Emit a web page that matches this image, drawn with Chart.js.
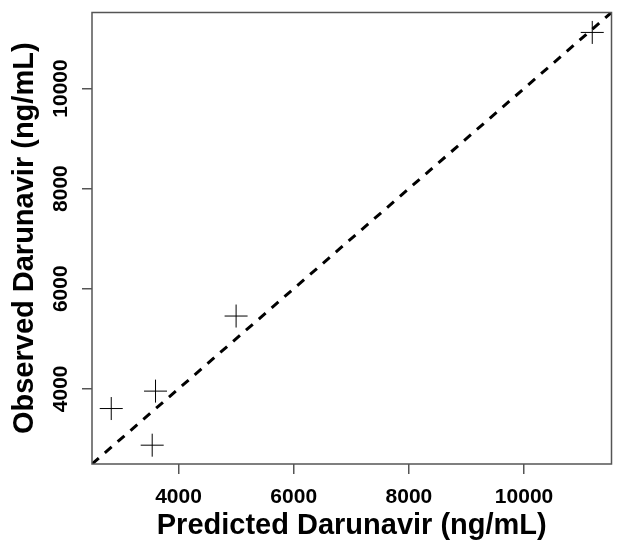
<!DOCTYPE html>
<html>
<head>
<meta charset="utf-8">
<script src="https://cdn.jsdelivr.net/npm/chart.js@4/dist/chart.umd.min.js"></script>
<style>
  html, body { margin: 0; padding: 0; background: #ffffff; }
  #wrap { width: 624px; height: 550px; }
</style>
</head>
<body>
<div id="wrap"><canvas id="c" width="624" height="550"></canvas></div>
<script>
// ---- data ----
const predicted = [2832, 3601, 3543, 5000, 11184];
const observed  = [3606, 3954, 2874, 5454, 11120];
const tickValues = [4000, 6000, 8000, 10000];
const xTitle = 'Predicted Darunavir (ng/mL)';
const yTitle = 'Observed Darunavir (ng/mL)';

// common axis limits (R style: range of all values, extended by 4%)
const allVals = predicted.concat(observed);
const lo = Math.min(...allVals), hi = Math.max(...allVals);
const axisMin = lo - 0.04 * (hi - lo);
const axisMax = hi + 0.04 * (hi - lo);

const points = predicted.map((p, i) => ({ x: p, y: observed[i] }));
const identity = [{ x: axisMin, y: axisMin }, { x: axisMax, y: axisMax }];

const FONT = "'Liberation Sans', Arial, Helvetica, sans-serif";

const decor = {
  id: 'decor',
  afterDraw(chart) {
    const ctx = chart.ctx;
    const a = chart.chartArea;
    const xs = chart.scales.x, ys = chart.scales.y;
    ctx.save();
    // frame box
    ctx.strokeStyle = '#555';
    ctx.lineWidth = 1.5;
    ctx.strokeRect(a.left, a.top, a.right - a.left, a.bottom - a.top);
    ctx.fillStyle = '#000';
    // x tick labels
    ctx.font = 'bold 21px ' + FONT;
    ctx.textAlign = 'center';
    ctx.textBaseline = 'alphabetic';
    xs.ticks.forEach(t => {
      ctx.fillText(String(t.value), xs.getPixelForValue(t.value), 503);
    });
    // y tick labels (rotated)
    ys.ticks.forEach(t => {
      ctx.save();
      ctx.translate(67, ys.getPixelForValue(t.value));
      ctx.rotate(-Math.PI / 2);
      ctx.fillText(String(t.value), 0, 0);
      ctx.restore();
    });
    // axis titles
    ctx.font = 'bold 29px ' + FONT;
    ctx.fillText(xTitle, (a.left + a.right) / 2, 534);
    ctx.save();
    ctx.translate(33, (a.top + a.bottom) / 2);
    ctx.rotate(-Math.PI / 2);
    ctx.fillText(yTitle, 0, 0);
    ctx.restore();
    ctx.restore();
  }
};

const setTicks = axis => { axis.ticks = tickValues.map(v => ({ value: v })); };

new Chart(document.getElementById('c'), {
  type: 'scatter',
  data: {
    datasets: [
      {
        label: 'Observed vs predicted',
        data: points,
        pointStyle: 'cross',
        pointRadius: 11.5,
        pointHoverRadius: 11.5,
        borderColor: '#000',
        backgroundColor: '#000',
        pointBorderWidth: 1,
        borderWidth: 1
      },
      {
        type: 'line',
        label: 'Identity',
        data: identity,
        borderColor: '#000',
        borderWidth: 3,
        borderDash: [9, 8],
        pointRadius: 0,
        fill: false,
        tension: 0
      }
    ]
  },
  options: {
    responsive: false,
    animation: false,
    devicePixelRatio: 1,
    layout: { padding: { left: 0, top: 10, right: 12, bottom: 0 } },
    plugins: { legend: { display: false }, tooltip: { enabled: false } },
    scales: {
      x: {
        type: 'linear',
        min: axisMin,
        max: axisMax,
        afterBuildTicks: setTicks,
        afterFit: s => { s.height = 86; s.paddingLeft = 0; s.paddingRight = 0; },
        grid: { display: true, drawOnChartArea: false, drawTicks: true, tickLength: 10, color: '#555', lineWidth: 1.5 },
        border: { display: false },
        ticks: { color: 'rgba(0,0,0,0)', font: { size: 1 }, padding: 0 }
      },
      y: {
        type: 'linear',
        min: axisMin,
        max: axisMax,
        afterBuildTicks: setTicks,
        afterFit: s => { s.width = 92; s.paddingTop = 0; s.paddingBottom = 0; },
        grid: { display: true, drawOnChartArea: false, drawTicks: true, tickLength: 10, color: '#555', lineWidth: 1.5 },
        border: { display: false },
        ticks: { color: 'rgba(0,0,0,0)', font: { size: 1 }, padding: 0 }
      }
    }
  },
  plugins: [decor]
});
</script>
</body>
</html>
